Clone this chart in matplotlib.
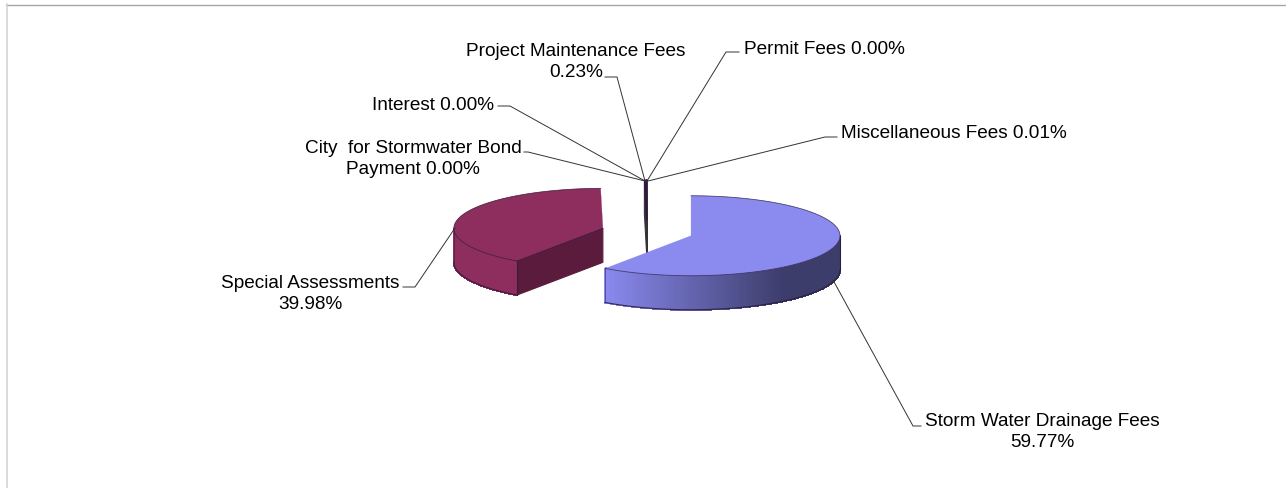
import numpy as np
import matplotlib
import matplotlib.pyplot as plt
from matplotlib.colors import to_rgb

matplotlib.use('Agg')
plt.rcParams['font.family'] = ['Liberation Sans', 'DejaVu Sans']

sources = ['Storm Water Drainage Fees', 'Special Assessments', 'City  for Stormwater Bond Payment',
           'Interest', 'Project Maintenance Fees', 'Permit Fees', 'Miscellaneous Fees']
shares = [59.77, 39.98, 0.00, 0.00, 0.23, 0.00, 0.01]
top_colors = ['#8b8bef', '#8e2e5e', '#5c1f6e', '#5c1f6e', '#3e0d52', '#3e0d52', '#3e0d52']
side_light = ['#8a8af0', '#8e2e5e', '#333338', '#333338', '#333338', '#333338', '#333338']
side_dark = ['#3c3d6b', '#8a2c5a', '#333338', '#333338', '#333338', '#333338', '#333338']
cut_colors = ['#3c3d6b', '#5a1b3c', '#333338', '#333338', '#333338', '#333338', '#333338']

# pie geometry, in pixels
CX, CY = 647, 233
RX, RY = 149, 40
DEPTH = 34
EXPLODE = 0.31
EDGE = '#2a1a3a'
LEADER = '#333333'
TEXT_SIZE = 13.7


def rim(cx, cy, theta):
    # angles run clockwise from twelve o'clock
    return cx + RX * np.sin(theta), cy - RY * np.cos(theta)


def draw_slice(ax, start, end, top, light, dark, cut):
    mid = (start + end) / 2
    cx = CX + EXPLODE * RX * np.sin(mid)
    cy = CY - EXPLODE * RY * np.cos(mid)

    # flat cut face, only when it turns towards the viewer
    if np.sin(start) < 0:
        sx, sy = rim(cx, cy, start)
        ax.fill([cx, sx, sx, cx], [cy, sy, sy + DEPTH, cy + DEPTH], color=cut, lw=0.8, zorder=2)

    # outer wall, split into facets so the shading can change along the rim
    lo, hi = max(start, np.pi / 2), min(end, 3 * np.pi / 2)
    if hi > lo:
        edges = np.linspace(lo, hi, 90)
        xs, ys = rim(cx, cy, edges)
        c0, c1 = np.array(to_rgb(light)), np.array(to_rgb(dark))
        for i in range(len(edges) - 1):
            f = np.clip((xs[i] - (cx - RX * 0.58)) / (RX * 1.2), 0, 1)
            ax.fill([xs[i], xs[i + 1], xs[i + 1], xs[i]],
                    [ys[i], ys[i + 1], ys[i + 1] + DEPTH, ys[i] + DEPTH],
                    color=c0 + (c1 - c0) * f, lw=0.9, antialiased=False, zorder=2)
        ax.plot(xs, ys + DEPTH, color=EDGE, lw=0.8, alpha=0.85, zorder=3)
        ax.plot([xs[-1], xs[-1]], [ys[-1], ys[-1] + DEPTH], color=EDGE, lw=0.5, alpha=0.7, zorder=3)
        ax.plot([xs[0], xs[0]], [ys[0], ys[0] + DEPTH], color=EDGE, lw=0.8, alpha=0.85, zorder=3)

    # top surface
    arc = np.linspace(start, end, 160)
    ax_, ay_ = rim(cx, cy, arc)
    ax.fill(np.r_[cx, ax_], np.r_[cy, ay_], color=top, lw=0.2, zorder=3)
    ax.plot(ax_, ay_, color=EDGE, lw=0.6, alpha=0.7, zorder=4)
    if np.sin(start) < 0:
        sx, sy = rim(cx, cy, start)
        ax.plot([cx, sx], [cy, sy], color=EDGE, lw=0.6, alpha=0.8, zorder=4)


fig = plt.figure(figsize=(12.86, 4.89), dpi=100)
ax = fig.add_axes([0, 0, 1, 1])
ax.set_xlim(0, 1286)
ax.set_ylim(489, 0)
ax.axis('off')

# chart frame, only top and left show
ax.plot([6, 1286], [5.5, 5.5], color='#a6a6a6', lw=1)
ax.plot([6.5, 6.5], [5, 489], color='#d4d4d4', lw=1.2)

fractions = np.array(shares) / sum(shares)
stops = np.r_[0, np.cumsum(fractions)] * 2 * np.pi

# back to front: red slice, the sliver, then the blue one over its foot
for i in [1, 2, 3, 4, 5, 6, 0]:
    if shares[i] > 0:
        draw_slice(ax, stops[i], stops[i + 1], top_colors[i], side_light[i], side_dark[i], cut_colors[i])

# label anchors and leader lines, same order as sources
label_xy = [(1042, 432), (310, 294), (413, 159), (433, 106), (576, 62), (824, 50), (954, 134)]
label_fmt = ['{}\n{:.2f}%', '{}\n{:.2f}%', 'City  for Stormwater Bond\nPayment {:.2f}%', '{} {:.2f}%',
             '{}\n{:.2f}%', '{} {:.2f}%', '{} {:.2f}%']
leaders = [
    [(833, 281), (913, 427), (921, 427)],
    [(455, 229), (415, 288), (403, 288)],
    [(645, 182), (528, 153), (524, 153)],
    [(645, 182), (510, 107), (498, 107)],
    [(645, 182), (617, 78), (605, 78)],
    [(647, 182), (726, 53), (739, 53)],
    [(648, 182), (825, 138), (837, 138)],
]

for name, share, xy, fmt, line in zip(sources, shares, label_xy, label_fmt, leaders):
    pts = np.array(line)
    ax.plot(pts[:, 0], pts[:, 1], color=LEADER, lw=0.7, zorder=5)
    text = fmt.format(share) if fmt.startswith('City') else fmt.format(name, share)
    ax.text(xy[0], xy[1], text, ha='center', va='center', fontsize=TEXT_SIZE,
            color='black', linespacing=1.25, zorder=6)

fig.savefig('out.png', dpi=100)
